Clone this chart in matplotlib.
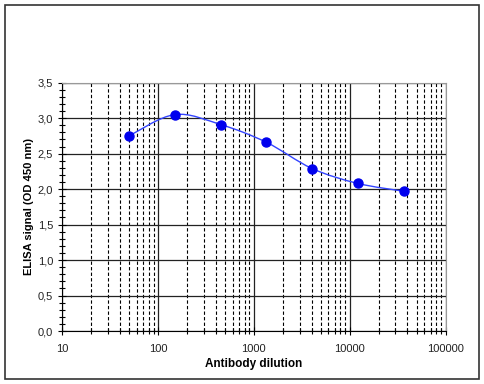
import numpy as np
import matplotlib
matplotlib.use('Agg')
import matplotlib.pyplot as plt
from matplotlib.path import Path
from matplotlib.patches import PathPatch, Rectangle
from matplotlib.ticker import FixedLocator, LogLocator, FuncFormatter, MultipleLocator

# Dados
diluicao = [50, 150, 450, 1350, 4050, 12150, 36450]
sinal = [2.75, 3.05, 2.91, 2.66, 2.29, 2.08, 1.97]

rotulos_x = ['10', '100', '1000', '10000', '100000']
ticks_x = [10, 100, 1000, 10000, 100000]

plt.rcParams['font.family'] = ['Liberation Sans', 'DejaVu Sans']

fig = plt.figure(figsize=(4.85, 3.84), dpi=100)
fig.patches.append(Rectangle((0.0097, 0.013), 0.978, 0.975, transform=fig.transFigure,
                             fill=False, edgecolor='#333333', linewidth=1.2))

ax = fig.add_axes([0.128, 0.138, 0.7906, 0.6468])
ax.set_xscale('log')
ax.set_xlim(10, 100000)
ax.set_ylim(0, 3.5)

# Grade
ax.xaxis.set_major_locator(FixedLocator(ticks_x))
ax.xaxis.set_minor_locator(LogLocator(base=10, subs=np.arange(2, 10)))
ax.yaxis.set_major_locator(MultipleLocator(0.5))
ax.yaxis.set_minor_locator(MultipleLocator(0.1))
ax.grid(True, which='major', axis='both', color='#222222', linewidth=0.9)
ax.grid(True, which='minor', axis='x', color='black', linestyle=(0, (3, 2)), linewidth=0.8)
ax.set_axisbelow(True)

ax.set_xticklabels(rotulos_x)
ax.xaxis.set_minor_formatter(FuncFormatter(lambda v, p: ''))
ax.yaxis.set_major_formatter(FuncFormatter(lambda v, p: f'{v:.1f}'.replace('.', ',')))

ax.tick_params(axis='both', which='major', direction='inout', length=6, width=0.8,
               labelsize=8, colors='black', labelcolor='#222222')
ax.tick_params(axis='both', which='minor', direction='inout', length=4, width=0.8)
ax.tick_params(axis='x', pad=6)

for lado in ['top', 'right']:
    ax.spines[lado].set_color('#999999')
for lado in ['left', 'bottom']:
    ax.spines[lado].set_color('black')

# Linha suavizada (Bezier no espaço log, como no Excel)
lx = np.log10(diluicao)
pts = np.column_stack([lx, sinal])
verts = [pts[0]]
codes = [Path.MOVETO]
n = len(pts)
for i in range(n - 1):
    p0 = pts[i - 1] if i > 0 else pts[i]
    p1 = pts[i]
    p2 = pts[i + 1]
    p3 = pts[i + 2] if i + 2 < n else pts[i + 1]
    c1 = p1 + (p2 - p0) / 6.0
    c2 = p2 - (p3 - p1) / 6.0
    verts += [c1, c2, p2]
    codes += [Path.CURVE4] * 3
verts = np.array(verts)
verts[:, 0] = 10 ** verts[:, 0]
caminho = Path(verts, codes)
ax.add_patch(PathPatch(caminho, facecolor='none', edgecolor='#3344ff', linewidth=1.0, zorder=3))

ax.plot(diluicao, sinal, linestyle='none', marker='o', markersize=6.5,
        color='#0000ee', zorder=4)

ax.set_xlabel('Antibody dilution', fontsize=8.5, fontweight='bold', labelpad=3)
ax.set_ylabel('ELISA signal (OD 450 nm)', fontsize=8, fontweight='bold', labelpad=3)

fig.savefig('out.png', dpi=100)
